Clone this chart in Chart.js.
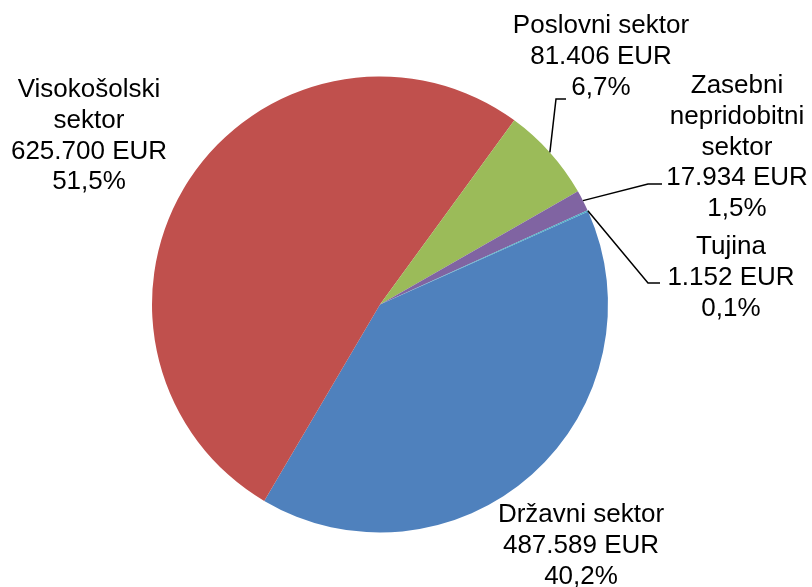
<!DOCTYPE html>
<html>
<head>
<meta charset="utf-8">
<script src="https://cdn.jsdelivr.net/npm/chart.js@4/dist/chart.umd.min.js"></script>
<style>
html,body{margin:0;padding:0;background:#fff;}
#c{display:block;}
</style>
</head>
<body>
<canvas id="c" width="812" height="587"></canvas>
<script>
// ---- data ----
const categories = ['Državni sektor', 'Visokošolski\nsektor', 'Poslovni sektor', 'Zasebni\nnepridobitni\nsektor', 'Tujina'];
const values = [487589, 625700, 81406, 17934, 1152];
const colors = ['#4F81BD', '#C0504D', '#9BBB59', '#8064A2', '#4BACC6'];
const currency = 'EUR';

// ---- layout (positions only) ----
const FONT = '26px "Liberation Sans", Arial, sans-serif';
const LINE_H = 30.7;
const labelLayout = [
  {cx: 581, y0: 515},
  {cx: 89, y0: 90},
  {cx: 601, y0: 26, leader: [[556, 99], [566, 99]]},
  {cx: 737, y0: 86, leader: [[648, 184], [662, 184]]},
  {cx: 731, y0: 247, leader: [[648, 283], [660, 283]]}
];

function fmtNum(v) {
  return String(v).replace(/\B(?=(\d{3})+(?!\d))/g, '.');
}
const total = values.reduce((a, b) => a + b, 0);

const labelPlugin = {
  id: 'pieLabels',
  afterDatasetsDraw(chart) {
    const ctx = chart.ctx;
    const meta = chart.getDatasetMeta(0);
    ctx.save();
    meta.data.forEach((arc, i) => {
      const L = labelLayout[i];
      const p = arc.getProps(['x', 'y', 'startAngle', 'endAngle', 'outerRadius'], true);
      if (L.leader) {
        const mid = (p.startAngle + p.endAngle) / 2;
        const ax = p.x + Math.cos(mid) * p.outerRadius;
        const ay = p.y + Math.sin(mid) * p.outerRadius;
        ctx.beginPath();
        ctx.moveTo(ax, ay);
        L.leader.forEach(pt => ctx.lineTo(pt[0], pt[1]));
        ctx.strokeStyle = '#000';
        ctx.lineWidth = 1.5;
        ctx.stroke();
      }
      const lines = categories[i].split('\n');
      lines.push(fmtNum(values[i]) + ' ' + currency);
      lines.push((values[i] / total * 100).toFixed(1).replace('.', ',') + '%');
      ctx.fillStyle = '#000';
      ctx.font = FONT;
      ctx.textAlign = 'center';
      ctx.textBaseline = 'middle';
      lines.forEach((t, k) => ctx.fillText(t, L.cx, L.y0 + k * LINE_H));
    });
    ctx.restore();
  }
};

new Chart(document.getElementById('c'), {
  type: 'pie',
  data: {
    labels: categories,
    datasets: [{
      data: values,
      backgroundColor: colors,
      borderWidth: 0
    }]
  },
  options: {
    responsive: false,
    devicePixelRatio: 1,
    animation: false,
    rotation: 65.9,
    layout: {padding: {left: 152, right: 204, top: 76, bottom: 54}},
    plugins: {
      legend: {display: false},
      tooltip: {enabled: false}
    }
  },
  plugins: [labelPlugin]
});
</script>
</body>
</html>
